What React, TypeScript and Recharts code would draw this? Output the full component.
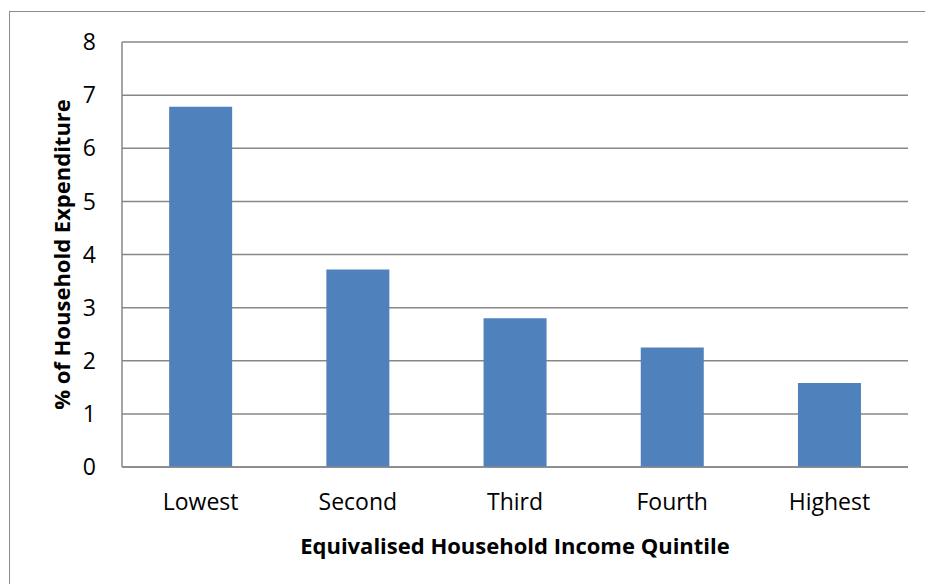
import React from 'react';
import { BarChart, Bar, XAxis, YAxis, CartesianGrid } from 'recharts';

const quintiles = ['Lowest', 'Second', 'Third', 'Fourth', 'Highest'];
const expenditureShare = [6.78, 3.72, 2.8, 2.25, 1.58];
const yTicks = [0, 1, 2, 3, 4, 5, 6, 7, 8];

const data = quintiles.map((name, i) => ({ name, value: expenditureShare[i] }));

const font = '"Open Sans", sans-serif';
const gray = '#878787';

export default function App() {
  return (
    <div style={{ position: 'absolute', left: 0, top: 0, width: 925, height: 584, overflow: 'hidden', background: '#fff', fontFamily: font }}>
      <div style={{ position: 'absolute', left: 9, top: 11, width: 1000, height: 700, border: '1.5px solid #8c8c8c' }} />
      <div style={{ position: 'absolute', left: 0, top: 0 }}>
        <BarChart width={925} height={584} data={data} margin={{ top: 42, right: 17, bottom: 0, left: 0 }} barCategoryGap="30%">
          <CartesianGrid vertical={false} stroke={gray} strokeWidth={1.5} />
          <XAxis
            dataKey="name"
            height={117}
            stroke={gray}
            strokeWidth={1.5}
            tickLine={false}
            tickSize={0}
            tickMargin={27}
            tick={{ fontSize: 23, fill: '#000', fontFamily: font }}
            label={{ value: 'Equivalised Household Income Quintile', position: 'insideBottom', offset: 30, fontSize: 22, fontWeight: 'bold', fill: '#000', fontFamily: font }}
          />
          <YAxis
            width={122}
            domain={[0, 8]}
            ticks={yTicks}
            stroke={gray}
            strokeWidth={1.5}
            tickLine={false}
            tickSize={0}
            tickMargin={26}
            tick={{ fontSize: 23, fill: '#000', fontFamily: font }}
            label={{ value: '% of Household Expenditure', angle: -90, position: 'insideLeft', offset: 62, fontSize: 22, fontWeight: 'bold', fill: '#000', fontFamily: font, style: { textAnchor: 'middle' } }}
          />
          <Bar dataKey="value" fill="#4F81BD" isAnimationActive={false} />
        </BarChart>
      </div>
    </div>
  );
}
